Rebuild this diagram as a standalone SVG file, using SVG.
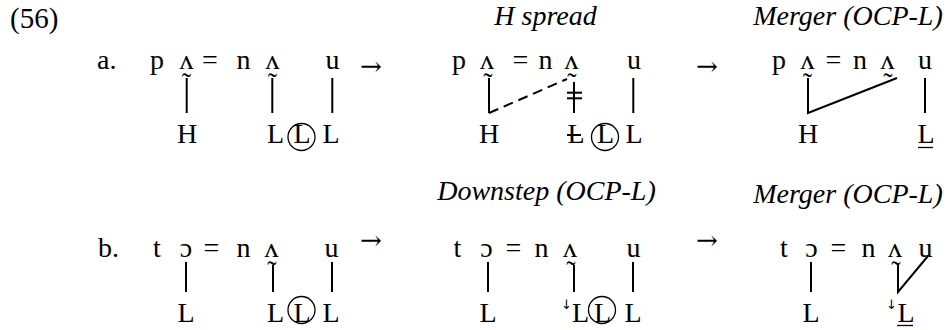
<svg xmlns="http://www.w3.org/2000/svg" width="950" height="330" viewBox="0 0 950 330">
<style>
text{font-family:"Liberation Serif","Times New Roman",serif;font-size:28px;fill:#000;text-anchor:middle}
.s{text-anchor:start}
.i{font-style:italic}
.v{font-family:"Liberation Serif","DejaVu Serif",serif}
.t{font-size:28px}
.ar{font-family:"DejaVu Serif",serif;font-size:26px}
.d{font-family:"DejaVu Sans",sans-serif;font-size:13px}
line,path,circle{stroke:#000;stroke-width:2;fill:none}
.dash{stroke-dasharray:10 6}
.thin{stroke-width:1.3}
</style>
<rect width="950" height="330" fill="#fff"/>
<text class="s" x="10" y="28" style="font-size:29px">(56)</text>
<g id="labels">
<text class="i" x="545.5" y="25">H spread</text>
<text class="i" x="848" y="25">Merger (OCP-L)</text>
<text class="i" x="546.5" y="200">Downstep (OCP-L)</text>
<text class="i" x="848" y="203">Merger (OCP-L)</text>
</g>
<g id="row-a">
<text class="s" x="97" y="69">a.</text>
<g id="a1-segments">
<text x="157" y="69">p</text><text class="v" x="186.5" y="69">ʌ</text><text class="t" x="186.5" y="92">˜</text><text x="210" y="69">=</text><text x="243.5" y="69">n</text><text class="v" x="272.5" y="69">ʌ</text><text class="t" x="272.5" y="92">˜</text><text x="332.5" y="69">u</text>
</g>
<g id="a1-tones">
<text x="275.5" y="143">L</text><text x="187" y="143">H</text><circle class="thin" cx="301.5" cy="137" r="13.5"/><text x="302" y="143">L</text><text x="331" y="143">L</text>
</g>
<text id="arrow-a1" class="ar" x="371" y="75">→</text>
<g id="a2-segments">
<text x="459" y="69">p</text><text class="v" x="487" y="69">ʌ</text><text class="t" x="488" y="92">˜</text><text x="520.5" y="69">=</text><text x="545.5" y="69">n</text><text class="v" x="571.5" y="69">ʌ</text><text class="t" x="572" y="92">˜</text><text x="634" y="69">u</text>
</g>
<g id="a2-tones">
<text x="489" y="143">H</text><text x="576" y="143">L</text><line x1="567" y1="135" x2="581" y2="135"/><circle class="thin" cx="605" cy="137" r="13.5"/><text x="605.5" y="143">L</text><text x="634" y="143">L</text>
</g>
<text id="arrow-a2" class="ar" x="707" y="75">→</text>
<g id="a3-segments">
<text x="779" y="69">p</text><text class="v" x="807.5" y="69">ʌ</text><text class="t" x="807.5" y="92">˜</text><text x="833.5" y="69">=</text><text x="860" y="69">n</text><text class="v" x="887.5" y="69">ʌ</text><text class="t" x="888" y="92">˜</text><text x="925" y="69">u</text>
</g>
<g id="a3-tones">
<text x="808" y="143">H</text><text x="926" y="143">L</text><line x1="918" y1="147.5" x2="933" y2="147.5" class="thin"/>
</g>
</g>
<g id="row-b">
<text class="s" x="98" y="257">b.</text>
<g id="b1-segments">
<text x="157" y="257">t</text><text class="v" x="186" y="257">ɔ</text><text x="211.5" y="257">=</text><text x="243.5" y="257">n</text><text class="v" x="271.5" y="257">ʌ</text><text class="t" x="272" y="280">˜</text><text x="331.5" y="257">u</text>
</g>
<g id="b1-tones">
<text x="186" y="322">L</text><text x="275.5" y="322">L</text><circle class="thin" cx="301.5" cy="310" r="13.5"/><text x="302" y="322">L</text><text x="331" y="322">L</text>
</g>
<text id="arrow-b1" class="ar" x="371" y="249">→</text>
<g id="b2-segments">
<text x="457.5" y="257">t</text><text class="v" x="486.5" y="257">ɔ</text><text x="513.5" y="257">=</text><text x="541.5" y="257">n</text><text class="v" x="570" y="257">ʌ</text><text class="t" x="571" y="280">˜</text><text x="633.5" y="257">u</text>
</g>
<g id="b2-tones">
<text x="488" y="322">L</text><text class="d" x="566.5" y="309">↓</text><text x="580.5" y="322">L</text><circle class="thin" cx="602" cy="310" r="13.5"/><text x="602.5" y="322">L</text><text x="633" y="322">L</text>
</g>
<text id="arrow-b2" class="ar" x="707" y="249">→</text>
<g id="b3-segments">
<text x="784" y="257">t</text><text class="v" x="811.5" y="257">ɔ</text><text x="838.5" y="257">=</text><text x="868.5" y="257">n</text><text class="v" x="895" y="257">ʌ</text><text class="t" x="896" y="280">˜</text><text x="925.5" y="257">u</text>
</g>
<g id="b3-tones">
<text x="811" y="322">L</text><text class="d" x="891.5" y="309">↓</text><text x="906" y="322">L</text><line x1="897" y1="325.5" x2="913" y2="325.5" class="thin"/>
</g>
</g>
<g id="connectors">
<line x1="186.7" y1="78" x2="186.7" y2="113"/>
<line x1="272.3" y1="78" x2="272.3" y2="113"/>
<line x1="332.3" y1="78" x2="332.3" y2="113"/>
<line x1="489" y1="78" x2="489" y2="113"/>
<line class="dash" x1="489" y1="113" x2="567" y2="79"/>
<line x1="574" y1="82" x2="574" y2="113"/>
<line x1="567" y1="92.7" x2="582" y2="92.7"/>
<line x1="567" y1="98.3" x2="582" y2="98.3"/>
<line x1="633.3" y1="78" x2="633.3" y2="113"/>
<path d="M808 78V113L897 78"/>
<line x1="925" y1="78" x2="925" y2="113"/>
<line x1="186" y1="262" x2="186" y2="292"/>
<line x1="273" y1="265" x2="273" y2="292"/>
<line x1="332" y1="262" x2="332" y2="292"/>
<line x1="488" y1="262" x2="488" y2="292"/>
<line x1="574" y1="265" x2="574" y2="292"/>
<line x1="633" y1="262" x2="633" y2="292"/>
<line x1="811" y1="262" x2="811" y2="292"/>
<path d="M898 265V292L928 256"/>
</g>
</svg>
